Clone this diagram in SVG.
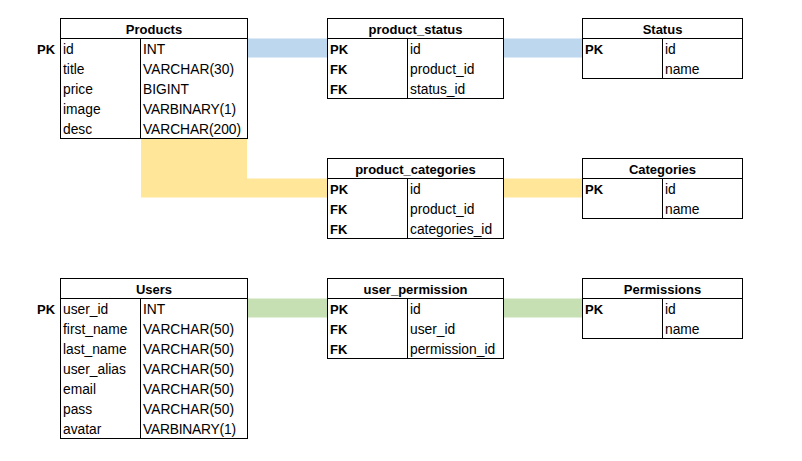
<svg xmlns="http://www.w3.org/2000/svg" width="802" height="461" viewBox="0 0 802 461">
<style>
.box{fill:#fff;stroke:#000;stroke-width:1}
.ln{stroke:#000;stroke-width:1;fill:none}
text{font-family:"Liberation Sans",Arial,sans-serif;font-size:13.8px;fill:#000}
.h{font-weight:bold;text-anchor:middle;font-size:13px}
.k{font-weight:bold;font-size:13px}
</style>
<rect width="802" height="461" fill="#fff"/>
<g id="connectors">
<rect x="248" y="38.5" width="79.5" height="19" fill="#BDD7EE"/>
<rect x="504" y="38.5" width="78.5" height="19" fill="#BDD7EE"/>
<polygon points="141,139 247,139 247,178.5 327,178.5 327,197.5 141,197.5" fill="#FFE699"/>
<rect x="504" y="178.5" width="78.5" height="19" fill="#FFE699"/>
<rect x="248" y="298.5" width="79.5" height="19" fill="#C6E0B4"/>
<rect x="504" y="298.5" width="78.5" height="19" fill="#C6E0B4"/>
</g>
<g id="products">
<rect class="box" x="60.5" y="18.5" width="187" height="120"/>
<path class="ln" d="M60.5 38.5H247.5M140.5 38.5V138.5"/>
<text class="h" x="154" y="34">Products</text>
<text class="k" x="37" y="54">PK</text>
<text x="63" y="54">id</text><text x="143" y="54">INT</text>
<text x="63" y="74">title</text><text x="143" y="74">VARCHAR(30)</text>
<text x="63" y="94">price</text><text x="143" y="94">BIGINT</text>
<text x="63" y="114">image</text><text x="143" y="114" textLength="93" lengthAdjust="spacing">VARBINARY(1)</text>
<text x="63" y="134">desc</text><text x="143" y="134" textLength="98" lengthAdjust="spacing">VARCHAR(200)</text>
</g>
<g id="product_status">
<rect class="box" x="327.5" y="18.5" width="176" height="80"/>
<path class="ln" d="M327.5 38.5H503.5M407.5 38.5V98.5"/>
<text class="h" x="415.5" y="34">product_status</text>
<text class="k" x="330" y="54">PK</text><text x="410" y="54">id</text>
<text class="k" x="330" y="74">FK</text><text x="410" y="74">product_id</text>
<text class="k" x="330" y="94">FK</text><text x="410" y="94">status_id</text>
</g>
<g id="status">
<rect class="box" x="582.5" y="18.5" width="160" height="60"/>
<path class="ln" d="M582.5 38.5H742.5M662.5 38.5V78.5"/>
<text class="h" x="662.5" y="34">Status</text>
<text class="k" x="585" y="54">PK</text><text x="665" y="54">id</text>
<text x="665" y="74">name</text>
</g>
<g id="product_categories">
<rect class="box" x="327.5" y="158.5" width="176" height="80"/>
<path class="ln" d="M327.5 178.5H503.5M407.5 178.5V238.5"/>
<text class="h" x="415.5" y="174">product_categories</text>
<text class="k" x="330" y="194">PK</text><text x="410" y="194">id</text>
<text class="k" x="330" y="214">FK</text><text x="410" y="214">product_id</text>
<text class="k" x="330" y="234">FK</text><text x="410" y="234">categories_id</text>
</g>
<g id="categories">
<rect class="box" x="582.5" y="158.5" width="160" height="60"/>
<path class="ln" d="M582.5 178.5H742.5M662.5 178.5V218.5"/>
<text class="h" x="662.5" y="174">Categories</text>
<text class="k" x="585" y="194">PK</text><text x="665" y="194">id</text>
<text x="665" y="214">name</text>
</g>
<g id="users">
<rect class="box" x="60.5" y="278.5" width="187" height="160"/>
<path class="ln" d="M60.5 298.5H247.5M140.5 298.5V438.5"/>
<text class="h" x="154" y="294">Users</text>
<text class="k" x="37" y="314">PK</text>
<text x="63" y="314">user_id</text><text x="143" y="314">INT</text>
<text x="63" y="334">first_name</text><text x="143" y="334">VARCHAR(50)</text>
<text x="63" y="354">last_name</text><text x="143" y="354">VARCHAR(50)</text>
<text x="63" y="374">user_alias</text><text x="143" y="374">VARCHAR(50)</text>
<text x="63" y="394">email</text><text x="143" y="394">VARCHAR(50)</text>
<text x="63" y="414">pass</text><text x="143" y="414">VARCHAR(50)</text>
<text x="63" y="434">avatar</text><text x="143" y="434" textLength="93" lengthAdjust="spacing">VARBINARY(1)</text>
</g>
<g id="user_permission">
<rect class="box" x="327.5" y="278.5" width="176" height="80"/>
<path class="ln" d="M327.5 298.5H503.5M407.5 298.5V358.5"/>
<text class="h" x="415.5" y="294">user_permission</text>
<text class="k" x="330" y="314">PK</text><text x="410" y="314">id</text>
<text class="k" x="330" y="334">FK</text><text x="410" y="334">user_id</text>
<text class="k" x="330" y="354">FK</text><text x="410" y="354">permission_id</text>
</g>
<g id="permissions">
<rect class="box" x="582.5" y="278.5" width="160" height="60"/>
<path class="ln" d="M582.5 298.5H742.5M662.5 298.5V338.5"/>
<text class="h" x="662.5" y="294">Permissions</text>
<text class="k" x="585" y="314">PK</text><text x="665" y="314">id</text>
<text x="665" y="334">name</text>
</g>
</svg>
